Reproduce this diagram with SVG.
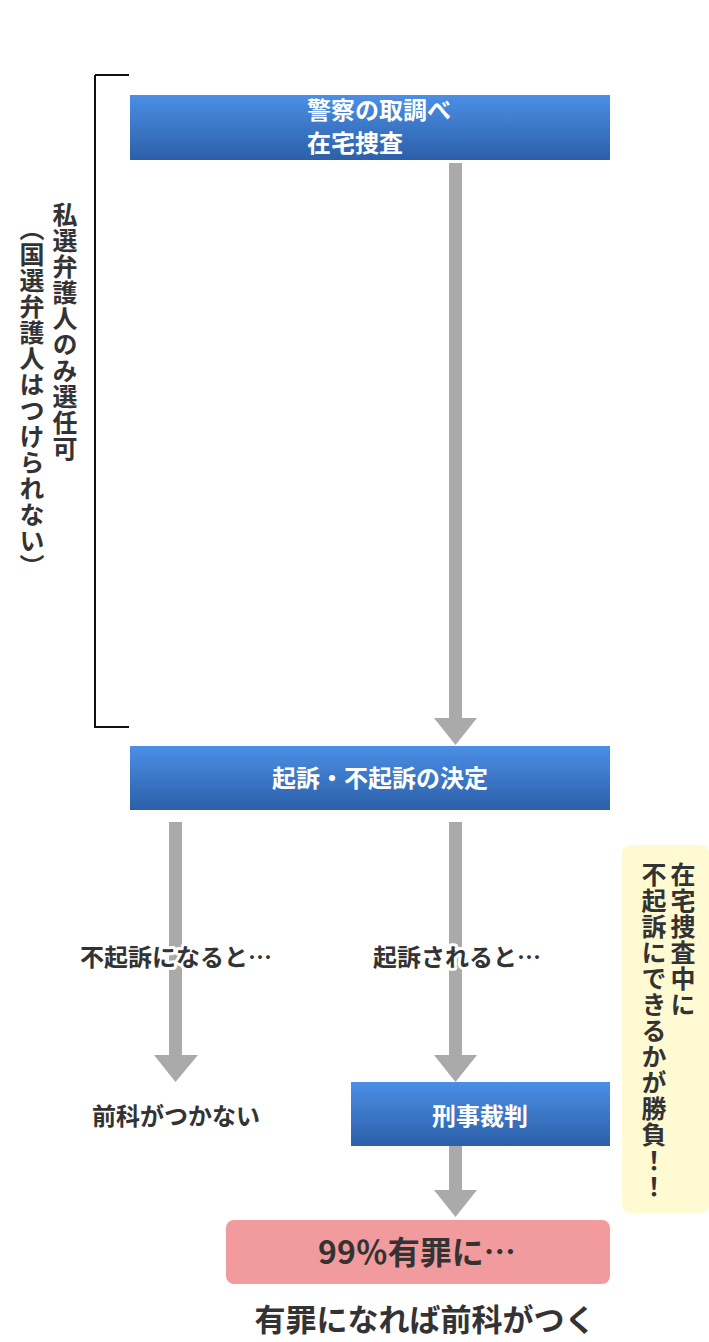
<svg xmlns="http://www.w3.org/2000/svg" width="709" height="1342" viewBox="0 0 709 1342">
<defs>
<linearGradient id="blue" x1="0" y1="0" x2="0" y2="1">
<stop offset="0" stop-color="#4b8fe6"/>
<stop offset="1" stop-color="#2c5fa8"/>
</linearGradient>
<style>
.box{fill:url(#blue);}
.wt{fill:#ffffff;font-family:"Noto Sans CJK JP","Noto Sans",sans-serif;font-weight:700;font-size:24px;}
.dk{fill:#333333;font-family:"Noto Sans CJK JP","Noto Sans",sans-serif;font-weight:700;}
.vt{writing-mode:vertical-rl;font-size:25px;letter-spacing:1px;}
.halo{stroke:#ffffff;stroke-width:6px;stroke-linejoin:round;paint-order:stroke;}
.shaft{fill:#aaaaaa;}
</style>
</defs>
<rect width="709" height="1342" fill="#ffffff"/>
<g id="connectors">
<path d="M95 75 H129 M95 75 V727 H129" fill="none" stroke="#111111" stroke-width="2"/>
<rect class="shaft" x="449" y="163" width="13" height="556"/>
<polygon class="shaft" points="434,718 477,718 455.5,745"/>
<rect class="shaft" x="169" y="822" width="13" height="234"/>
<polygon class="shaft" points="154,1055 198,1055 175.5,1082"/>
<rect class="shaft" x="449" y="822" width="13" height="234"/>
<polygon class="shaft" points="434,1055 477,1055 455.5,1082"/>
<rect class="shaft" x="449" y="1146" width="13" height="45"/>
<polygon class="shaft" points="434,1190 477,1190 455.5,1217"/>
</g>
<g id="bracket-label">
<text class="dk vt" x="65" y="202">私選弁護人のみ選任可</text>
<text class="dk vt" x="32" y="216">（国選弁護人はつけられない）</text>
</g>
<g id="node-investigation">
<rect class="box" x="130" y="95" width="480" height="65"/>
<text class="wt" x="307" y="119">警察の取調べ</text>
<text class="wt" x="307" y="152">在宅捜査</text>
</g>
<g id="node-decision">
<rect class="box" x="130" y="746" width="480" height="64"/>
<text class="wt" x="380" y="787" text-anchor="middle">起訴・不起訴の決定</text>
</g>
<g id="label-nonprosecution">
<text class="dk halo" x="176" y="966" font-size="24" text-anchor="middle">不起訴になると…</text>
</g>
<g id="label-prosecution">
<text class="dk halo" x="457" y="966" font-size="24" text-anchor="middle">起訴されると…</text>
</g>
<g id="node-no-record">
<text class="dk" x="176" y="1125" font-size="24" text-anchor="middle">前科がつかない</text>
</g>
<g id="node-trial">
<rect class="box" x="351" y="1082" width="259" height="64"/>
<text class="wt" x="480" y="1125" text-anchor="middle">刑事裁判</text>
</g>
<g id="node-guilty">
<rect x="226" y="1220" width="384" height="64" rx="8" fill="#f29b9e"/>
<text class="dk" x="417" y="1264" font-size="32" text-anchor="middle">99％有罪に…</text>
</g>
<g id="node-record">
<text class="dk" x="425" y="1331" font-size="31" text-anchor="middle">有罪になれば前科がつく</text>
</g>
<g id="note">
<rect x="622" y="845" width="87" height="368" rx="8" fill="#fffad2"/>
<text class="dk vt" x="683" y="862">在宅捜査中に</text>
<text class="dk vt" x="654" y="862">不起訴にできるかが勝負！！</text>
</g>
</svg>
